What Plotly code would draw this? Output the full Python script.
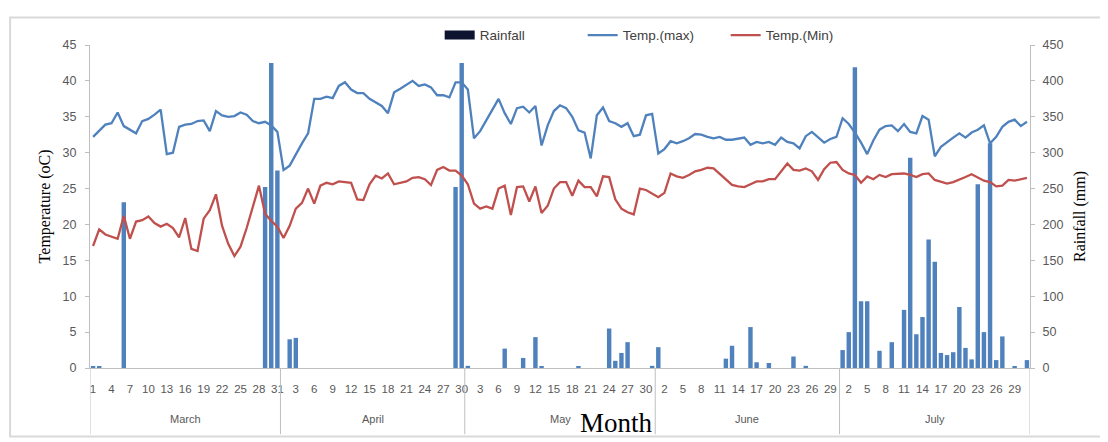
import plotly.graph_objects as go

# ---------------- data ----------------
months = ["March", "April", "May", "June", "July"]
month_lengths = [31, 30, 31, 30, 31]

tmax_march = [32.2, 33.0, 33.9, 34.1, 35.6, 33.7, 33.2, 32.7, 34.4, 34.7, 35.3, 36.0, 29.8, 30.0, 33.6, 33.9,
              34.0, 34.4, 34.5, 33.0, 35.8, 35.2, 35.0, 35.1, 35.6, 35.3, 34.4, 34.1, 34.3, 33.8, 32.9]
tmax_april = [27.6, 28.2, 29.8, 31.3, 32.7, 37.5, 37.5, 37.8, 37.6, 39.3, 39.8, 38.8, 38.3, 38.3, 37.5,
              37.0, 36.5, 35.5, 38.4, 38.9, 39.5, 40.0, 39.3, 39.5, 39.1, 38.0, 38.0, 37.7, 39.8, 39.8]
tmax_may = [38.8, 32.0, 33.0, 34.4, 36.0, 37.5, 35.5, 34.0, 36.2, 36.4, 35.6, 36.5, 31.0, 33.8, 35.8, 36.6,
            36.2, 35.0, 33.1, 32.8, 29.2, 35.2, 36.3, 34.4, 34.1, 33.6, 34.1, 32.3, 32.5, 35.2, 35.4]
tmax_june = [29.9, 30.5, 31.6, 31.3, 31.6, 32.0, 32.6, 32.5, 32.2, 32.0, 32.2, 31.8, 31.8, 32.0, 32.1,
             31.1, 31.5, 31.3, 31.5, 31.1, 32.1, 31.5, 31.3, 30.6, 32.3, 32.9, 32.2, 31.4, 31.9, 32.2]
tmax_july = [34.8, 34.0, 32.8, 31.4, 29.8, 31.7, 33.2, 33.7, 33.8, 33.0, 34.0, 32.9, 32.7, 35.1, 34.6, 29.5,
             30.8, 31.5, 32.1, 32.7, 32.1, 32.8, 33.2, 33.8, 31.3, 32.2, 33.6, 34.3, 34.6, 33.7, 34.3]

tmin_march = [17.0, 19.3, 18.6, 18.3, 18.0, 21.2, 18.0, 20.4, 20.6, 21.1, 20.2, 19.7, 20.1, 19.5, 18.2, 20.9,
              16.6, 16.3, 20.8, 22.0, 24.2, 19.8, 17.3, 15.6, 16.9, 19.5, 22.5, 25.4, 21.5, 20.5, 19.7]
tmin_april = [18.1, 19.8, 22.2, 23.0, 25.0, 22.9, 25.4, 25.8, 25.6, 26.0, 25.9, 25.8, 23.5, 23.4, 25.6,
              26.8, 26.4, 27.1, 25.6, 25.8, 26.0, 26.5, 26.6, 26.3, 25.5, 27.6, 28.0, 27.5, 27.5, 26.8]
tmin_may = [25.6, 22.9, 22.2, 22.5, 22.2, 25.0, 25.4, 21.3, 25.2, 25.3, 23.2, 25.3, 21.6, 22.6, 25.0, 25.9,
            25.9, 24.0, 26.1, 25.2, 25.2, 23.9, 26.7, 26.6, 23.5, 22.2, 21.7, 21.4, 25.0, 24.8, 24.3]
tmin_june = [23.8, 24.4, 27.1, 26.7, 26.5, 26.9, 27.4, 27.6, 27.9, 27.8, 27.0, 26.2, 25.5, 25.3, 25.2,
             25.6, 26.0, 26.0, 26.3, 26.3, 27.4, 28.5, 27.6, 27.5, 27.8, 27.4, 26.2, 27.7, 28.6, 28.7]
tmin_july = [27.6, 27.1, 26.9, 25.8, 26.7, 26.3, 26.9, 26.6, 27.0, 27.0, 27.1, 26.9, 26.6, 27.0, 27.1, 26.2,
             25.9, 25.7, 25.9, 26.2, 26.6, 27.0, 26.5, 26.1, 25.9, 25.3, 25.4, 26.2, 26.1, 26.3, 26.5]

rain_march = [2, 2, 0, 0, 0, 231, 0, 0, 0, 0, 0, 0, 0, 0, 0, 0,
              0, 0, 0, 0, 0, 0, 0, 0, 0, 0, 0, 0, 252, 425, 275]
rain_april = [0, 40, 42, 0, 0, 0, 0, 0, 0, 0, 0, 0, 0, 0, 0,
              0, 0, 0, 0, 0, 0, 0, 0, 0, 0, 0, 0, 0, 252, 425]
rain_may = [3, 0, 0, 0, 0, 0, 27, 0, 0, 14, 0, 43, 2, 0, 0, 0,
            0, 0, 2, 0, 0, 0, 0, 55, 10, 21, 36, 0, 0, 0, 3]
rain_june = [29, 0, 0, 0, 0, 0, 0, 0, 0, 0, 0, 13, 31, 0, 0,
             57, 8, 0, 7, 0, 0, 0, 16, 0, 3, 0, 0, 0, 0, 0]
rain_july = [25, 50, 419, 93, 93, 0, 24, 0, 36, 0, 81, 293, 47, 71, 179, 148,
             21, 18, 22, 85, 28, 12, 256, 50, 313, 11, 44, 0, 2, 0, 11]

# ---------------- assemble ----------------
tmax = tmax_march + tmax_april + tmax_may + tmax_june + tmax_july
tmin = tmin_march + tmin_april + tmin_may + tmin_june + tmin_july
rain = rain_march + rain_april + rain_may + rain_june + rain_july

day_labels = []
for n in month_lengths:
    day_labels += [str(d) for d in range(1, n + 1)]
x = list(range(len(day_labels)))

tick_idx = x[::3]
tick_txt = [day_labels[i] for i in tick_idx]

BLUE = "#4F81BD"
RED = "#C0504D"
GREY_TXT = "#595959"
AXIS = "#BFBFBF"

fig = go.Figure()

# legend-only entry for rainfall (dark wide box as in the reference)
fig.add_trace(go.Scatter(x=[None], y=[None], name="Rainfall", yaxis="y", mode="lines",
                         line=dict(color="#0d1430", width=9)))
fig.add_trace(go.Bar(x=x, y=rain, name="Rainfall", yaxis="y", showlegend=False,
                     width=0.72, marker=dict(color=BLUE, line=dict(width=0))))
fig.add_trace(go.Scatter(x=x, y=tmax, name="Temp.(max)", yaxis="y2", mode="lines",
                         line=dict(color=BLUE, width=2.3)))
fig.add_trace(go.Scatter(x=x, y=tmin, name="Temp.(Min)", yaxis="y2", mode="lines",
                         line=dict(color=RED, width=2.3)))

# month separators & labels under the axis
shapes = []
annotations = []
start = 0
bounds = [-0.5]
for m, n in zip(months, month_lengths):
    mid = start + (n - 1) / 2
    annotations.append(dict(x=mid, y=-0.158, xref="x", yref="paper", text=m, showarrow=False,
                            xanchor="center", yanchor="middle",
                            font=dict(family="Liberation Sans", size=11, color=GREY_TXT)))
    start += n
    bounds.append(start - 0.5)
for b in bounds:
    shapes.append(dict(type="line", xref="x", yref="paper", x0=b, x1=b, y0=0, y1=-0.205,
                       line=dict(color=AXIS, width=1)))

# outer chart border
shapes.append(dict(type="rect", xref="paper", yref="paper", x0=-0.085, x1=1.0787, y0=-0.212, y1=1.085,
                   line=dict(color="#D9D9D9", width=2), fillcolor="rgba(0,0,0,0)", layer="below"))

annotations += [
    dict(x=0.56, y=-0.17, xref="paper", yref="paper", text="Month", showarrow=False,
         xanchor="center", yanchor="middle",
         font=dict(family="Liberation Serif", size=27, color="#000000")),
    dict(x=-0.048, y=0.5, xref="paper", yref="paper", text="Temperature (oC)", showarrow=False,
         xanchor="center", yanchor="middle", textangle=-90,
         font=dict(family="Liberation Serif", size=16, color="#000000")),
    dict(x=1.053, y=0.47, xref="paper", yref="paper", text="Rainfall (mm)", showarrow=False,
         xanchor="center", yanchor="middle", textangle=-90,
         font=dict(family="Liberation Serif", size=16, color="#000000")),
]

fig.update_layout(
    width=1100, height=434,
    margin=dict(l=82, r=78, t=30, b=74),
    paper_bgcolor="white", plot_bgcolor="white",
    showlegend=True,
    legend=dict(orientation="h", x=0.372, y=1.03, xanchor="left", yanchor="middle",
                entrywidthmode="pixels", entrywidth=98,
                font=dict(family="Liberation Sans", size=13.5, color="#404040"),
                bgcolor="rgba(0,0,0,0)", traceorder="normal"),
    barmode="overlay",
    xaxis=dict(range=[-0.5, len(x) - 0.5], tickmode="array", tickvals=tick_idx, ticktext=tick_txt,
               showgrid=False, zeroline=False, showline=True, linecolor=AXIS,
               ticks="outside", ticklen=10, tickcolor="rgba(0,0,0,0)",
               tickfont=dict(family="Liberation Sans", size=11.5, color=GREY_TXT), tickangle=0),
    yaxis=dict(range=[0, 450], dtick=50, side="right", showgrid=False, zeroline=False,
               showline=True, linecolor=AXIS, ticks="outside", ticklen=4, tickcolor=AXIS,
               ticklabelstandoff=5,
               tickfont=dict(family="Liberation Sans", size=12.5, color=GREY_TXT)),
    yaxis2=dict(range=[0, 45], dtick=5, side="left", overlaying="y", showgrid=False, zeroline=False,
                showline=True, linecolor=AXIS, ticks="outside", ticklen=4, tickcolor=AXIS,
                ticklabelstandoff=6,
                tickfont=dict(family="Liberation Sans", size=12.5, color=GREY_TXT)),
    shapes=shapes,
    annotations=annotations,
)

fig.write_html("out.html")
